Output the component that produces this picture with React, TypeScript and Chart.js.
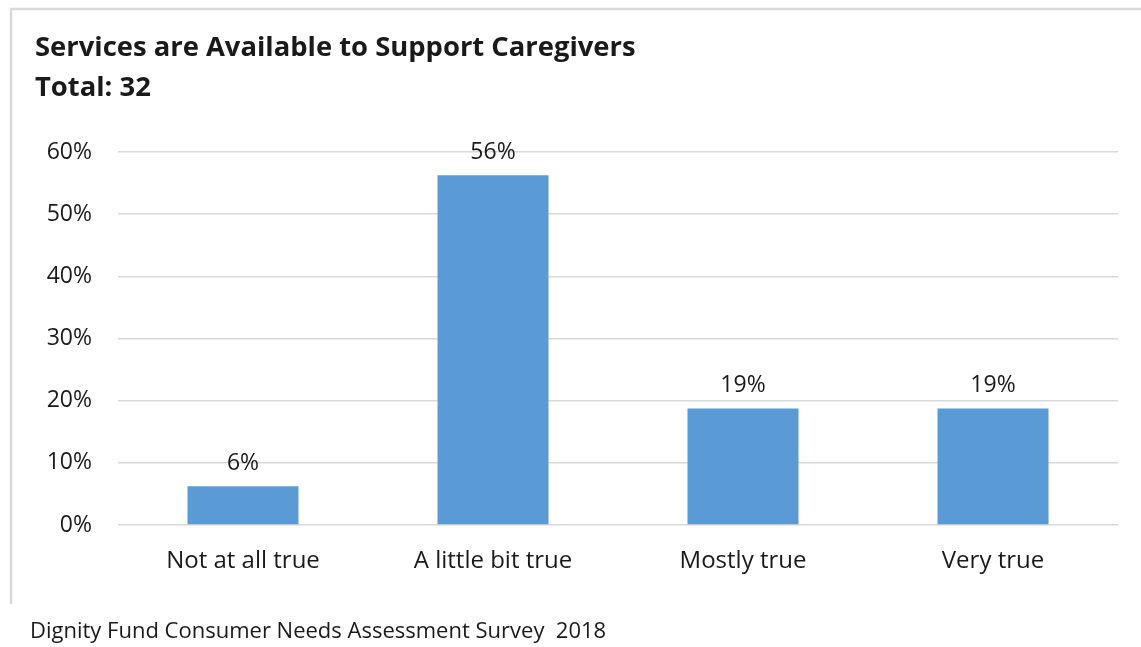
import React, { useEffect, useRef } from "react";
import { Chart, registerables } from "chart.js";

Chart.register(...registerables);

const categories = ["Not at all true", "A little bit true", "Mostly true", "Very true"];
const values = [6.25, 56.25, 18.75, 18.75];
const valueLabels = ["6%", "56%", "19%", "19%"];
const titleLines = ["Services are Available to Support Caregivers", "Total: 32"];
const footerText = "Dignity Fund Consumer Needs Assessment Survey  2018";

const FONT = "'Open Sans', sans-serif";
const TEXT = "#1a1a1a";

const decorPlugin = {
  id: "decor",
  beforeDraw(chart: any) {
    const ctx = chart.ctx;
    ctx.save();
    ctx.fillStyle = "#ffffff";
    ctx.fillRect(0, 0, chart.width, chart.height);
    ctx.strokeStyle = "#d9d9d9";
    ctx.lineWidth = 2.5;
    ctx.beginPath();
    ctx.moveTo(11, 604);
    ctx.lineTo(11, 9);
    ctx.lineTo(chart.width + 2, 9);
    ctx.stroke();
    ctx.restore();
  },
  afterDraw(chart: any) {
    const ctx = chart.ctx;
    ctx.save();
    ctx.fillStyle = TEXT;
    ctx.textBaseline = "middle";
    ctx.textAlign = "left";
    ctx.font = `bold 27.4px ${FONT}`;
    ctx.fillText(titleLines[0], 35, 48);
    ctx.fillText(titleLines[1], 35, 88);
    ctx.font = `22px ${FONT}`;
    ctx.fillText(footerText, 30, 632);
    // value labels
    const meta = chart.getDatasetMeta(0);
    ctx.font = `23px ${FONT}`;
    ctx.textAlign = "center";
    meta.data.forEach((bar: any, i: number) => {
      ctx.fillText(valueLabels[i], bar.x, bar.y - 23);
    });
    ctx.restore();
  },
};

export default function App() {
  const ref = useRef<HTMLCanvasElement>(null);
  useEffect(() => {
    if (!ref.current) return;
    const chart = new Chart(ref.current, {
      type: "bar",
      data: {
        labels: categories,
        datasets: [
          {
            data: values,
            backgroundColor: "#5b9bd5",
            borderWidth: 0,
            barPercentage: 0.444,
            categoryPercentage: 1,
          },
        ],
      },
      options: {
        responsive: false,
        animation: false,
        layout: { padding: { left: 0, right: 23, top: 152, bottom: 62 } },
        plugins: {
          legend: { display: false },
          title: { display: false },
          tooltip: { enabled: false },
        },
        scales: {
          x: {
            grid: { display: false, drawTicks: false },
            border: { display: false },
            ticks: { color: TEXT, font: { family: FONT, size: 24 }, padding: 22, maxRotation: 0 },
            afterFit: (s: any) => {
              s.height = 60;
            },
          },
          y: {
            min: 0,
            max: 60,
            grid: { color: "#d9d9d9", lineWidth: 1.5, drawTicks: false },
            border: { display: false },
            ticks: {
              stepSize: 10,
              color: TEXT,
              font: { family: FONT, size: 23 },
              padding: 26,
              callback: (v: any) => `${v}%`,
            },
            afterFit: (s: any) => {
              s.width = 118;
            },
          },
        },
      },
      plugins: [decorPlugin],
    });
    return () => chart.destroy();
  }, []);
  return (
    <div style={{ position: "absolute", left: 0, top: 0, width: 1141, height: 647, background: "#fff" }}>
      <canvas ref={ref} width={1141} height={647} />
    </div>
  );
}
